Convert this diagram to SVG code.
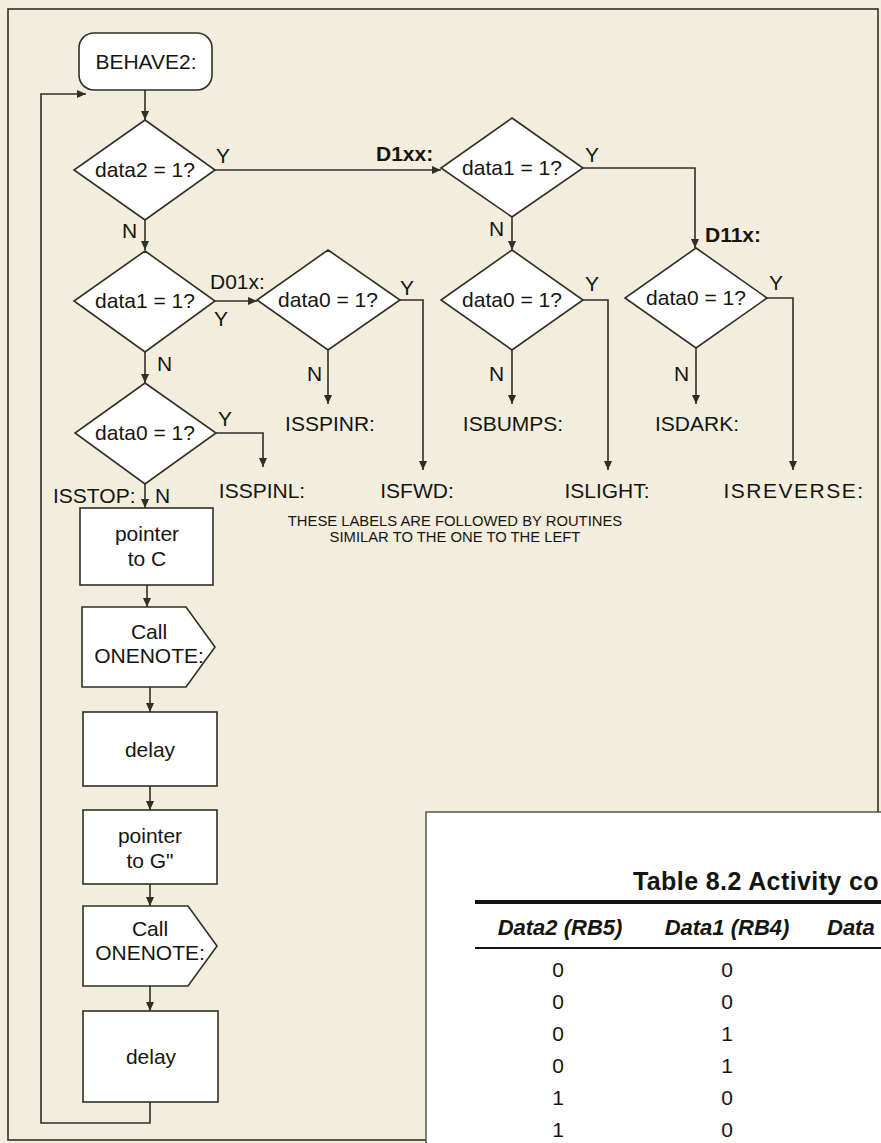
<svg xmlns="http://www.w3.org/2000/svg" width="881" height="1143" viewBox="0 0 881 1143">
<style>
.bg{fill:#f2eddd}
.frame{fill:none;stroke:#2f2f24;stroke-width:1.6}
.node{fill:#ffffff;stroke:#2f2f24;stroke-width:1.6}
.line{fill:none;stroke:#2f2f24;stroke-width:1.6}
.t{font-family:"Liberation Sans",Arial,sans-serif;font-size:21px;fill:#151510}
.m{text-anchor:middle}
.b{font-weight:bold}
.cap{font-family:"Liberation Sans",Arial,sans-serif;font-size:14.8px;fill:#151510;text-anchor:middle}
.tb{fill:#ffffff;stroke:#55554a;stroke-width:1.5}
.tt{font-family:"Liberation Sans",Arial,sans-serif;font-size:25px;font-weight:bold;fill:#151510;letter-spacing:0.4px}
.th{font-family:"Liberation Sans",Arial,sans-serif;font-size:22px;font-weight:bold;font-style:italic;fill:#151510;text-anchor:middle}
.td{font-family:"Liberation Sans",Arial,sans-serif;font-size:21px;fill:#151510;text-anchor:middle}
</style>
<defs>
<marker id="arr" markerUnits="userSpaceOnUse" markerWidth="9" markerHeight="8" refX="9" refY="4" orient="auto">
<path d="M0,0 L9,4 L0,8 z" fill="#2f2f24"/>
</marker>
</defs>
<rect class="bg" x="0" y="0" width="881" height="1143"/>
<rect class="frame" x="8" y="9" width="870" height="1131"/>

<g id="connectors">
<path class="line" d="M145,90 V120" marker-end="url(#arr)"/>
<path class="line" d="M150,1102 V1123 H41 V94 H86" marker-end="url(#arr)"/>
<path class="line" d="M215,170 H441" marker-end="url(#arr)"/>
<path class="line" d="M145,220 V250" marker-end="url(#arr)"/>
<path class="line" d="M583,168 H695 V248" marker-end="url(#arr)"/>
<path class="line" d="M512,217 V250" marker-end="url(#arr)"/>
<path class="line" d="M583,300 H608 V470" marker-end="url(#arr)"/>
<path class="line" d="M512,350 V404" marker-end="url(#arr)"/>
<path class="line" d="M767,298 H793 V470" marker-end="url(#arr)"/>
<path class="line" d="M696,348 V404" marker-end="url(#arr)"/>
<path class="line" d="M215,301 H257" marker-end="url(#arr)"/>
<path class="line" d="M400,300 H423 V470" marker-end="url(#arr)"/>
<path class="line" d="M328,350 V404" marker-end="url(#arr)"/>
<path class="line" d="M145,352 V383" marker-end="url(#arr)"/>
<path class="line" d="M216,433 H263 V467" marker-end="url(#arr)"/>
<path class="line" d="M145,484 V508" marker-end="url(#arr)"/>
<path class="line" d="M147,585 V607" marker-end="url(#arr)"/>
<path class="line" d="M150,687 V712" marker-end="url(#arr)"/>
<path class="line" d="M150,786 V810" marker-end="url(#arr)"/>
<path class="line" d="M150,884 V906" marker-end="url(#arr)"/>
<path class="line" d="M150,986 V1011" marker-end="url(#arr)"/>
</g>

<g id="behave2">
<rect class="node" x="79" y="33" width="133" height="57" rx="15"/>
<text class="t m" x="146" y="69">BEHAVE2:</text>
</g>

<g id="q-data2">
<polygon class="node" points="145,120 215,170 145,220 74,170"/>
<text class="t m" x="145" y="177">data2 = 1?</text>
<text class="t" x="216" y="163">Y</text>
<text class="t" x="122" y="238">N</text>
</g>

<g id="q-d1xx">
<text class="t b" x="376" y="161">D1xx:</text>
<polygon class="node" points="512,118 583,168 512,217 441,168"/>
<text class="t m" x="512" y="175">data1 = 1?</text>
<text class="t" x="585" y="162">Y</text>
<text class="t" x="489" y="236">N</text>
</g>

<g id="q-d10x">
<polygon class="node" points="512,250 583,300 512,350 441,300"/>
<text class="t m" x="512" y="307">data0 = 1?</text>
<text class="t" x="585" y="291">Y</text>
<text class="t" x="489" y="381">N</text>
</g>

<g id="q-d11x">
<text class="t b" x="705" y="242">D11x:</text>
<polygon class="node" points="696,248 767,298 696,348 625,298"/>
<text class="t m" x="696" y="305">data0 = 1?</text>
<text class="t" x="769" y="290">Y</text>
<text class="t" x="674" y="381">N</text>
</g>

<g id="q-data1">
<polygon class="node" points="145,251 215,301 145,352 74,301"/>
<text class="t m" x="145" y="308">data1 = 1?</text>
<text class="t" x="210" y="289">D01x:</text>
<text class="t" x="214" y="326">Y</text>
<text class="t" x="157" y="371">N</text>
</g>

<g id="q-d01x">
<polygon class="node" points="328,250 400,300 328,350 257,300"/>
<text class="t m" x="328" y="307">data0 = 1?</text>
<text class="t" x="400" y="295">Y</text>
<text class="t" x="307" y="381">N</text>
</g>

<g id="q-data0">
<polygon class="node" points="145,383 216,433 145,484 75,433"/>
<text class="t m" x="145" y="440">data0 = 1?</text>
<text class="t" x="218" y="426">Y</text>
<text class="t" x="155" y="503">N</text>
<text class="t" x="53" y="503">ISSTOP:</text>
</g>

<g id="labels">
<text class="t m" x="330" y="431">ISSPINR:</text>
<text class="t m" x="513" y="431">ISBUMPS:</text>
<text class="t m" x="697" y="431">ISDARK:</text>
<text class="t m" x="262" y="498">ISSPINL:</text>
<text class="t m" x="417" y="498">ISFWD:</text>
<text class="t m" x="607" y="498">ISLIGHT:</text>
<text class="t m" x="794" y="498" style="letter-spacing:1.5px">ISREVERSE:</text>
<text class="cap" x="455" y="526">THESE LABELS ARE FOLLOWED BY ROUTINES</text>
<text class="cap" x="455" y="542">SIMILAR TO THE ONE TO THE LEFT</text>
</g>

<g id="pointer-c">
<rect class="node" x="80" y="508" width="133" height="77"/>
<text class="t m" x="147" y="541">pointer</text>
<text class="t m" x="147" y="566">to C</text>
</g>

<g id="call-1">
<polygon class="node" points="82,607 186,607 215,647 186,687 82,687"/>
<text class="t m" x="149" y="639">Call</text>
<text class="t m" x="149" y="663">ONENOTE:</text>
</g>

<g id="delay-1">
<rect class="node" x="83" y="712" width="134" height="74"/>
<text class="t m" x="150" y="757">delay</text>
</g>

<g id="pointer-g">
<rect class="node" x="83" y="810" width="134" height="74"/>
<text class="t m" x="150" y="843">pointer</text>
<text class="t m" x="150" y="868">to G"</text>
</g>

<g id="call-2">
<polygon class="node" points="83,906 188,906 217,946 188,986 83,986"/>
<text class="t m" x="150" y="936">Call</text>
<text class="t m" x="150" y="960">ONENOTE:</text>
</g>

<g id="delay-2">
<rect class="node" x="83" y="1011" width="135" height="91"/>
<text class="t m" x="151" y="1064">delay</text>
</g>

<g id="table">
<rect class="tb" x="426" y="812" width="470" height="340"/>
<text class="tt" x="633" y="890">Table 8.2 Activity co</text>
<rect x="475" y="900" width="406" height="4" fill="#151510"/>
<text class="th" x="560" y="935">Data2 (RB5)</text>
<text class="th" x="727" y="935">Data1 (RB4)</text>
<text class="th" x="827" y="935" style="text-anchor:start">Data</text>
<rect x="475" y="947" width="406" height="2" fill="#151510"/>
<text class="td" x="558" y="977">0</text><text class="td" x="727" y="977">0</text>
<text class="td" x="558" y="1009">0</text><text class="td" x="727" y="1009">0</text>
<text class="td" x="558" y="1041">0</text><text class="td" x="727" y="1041">1</text>
<text class="td" x="558" y="1073">0</text><text class="td" x="727" y="1073">1</text>
<text class="td" x="558" y="1105">1</text><text class="td" x="727" y="1105">0</text>
<text class="td" x="558" y="1137">1</text><text class="td" x="727" y="1137">0</text>
</g>
</svg>
